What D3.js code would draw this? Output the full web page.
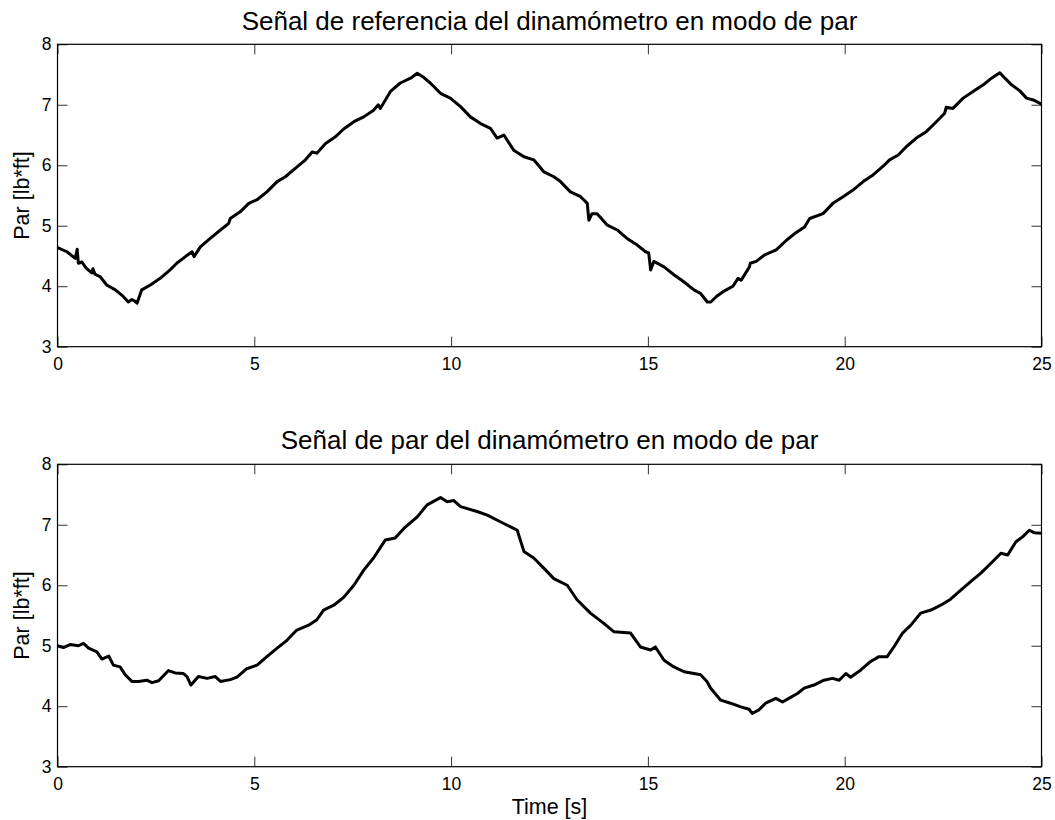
<!DOCTYPE html>
<html>
<head>
<meta charset="utf-8">
<script src="https://cdn.jsdelivr.net/npm/d3@7/dist/d3.min.js"></script>
<style>
  html, body { margin: 0; padding: 0; background: #fff; }
  svg { display: block; font-family: "Liberation Sans", Arial, Helvetica, sans-serif; }
</style>
</head>
<body>
<svg id="chart" width="1055" height="820"></svg>
<script>
// ---- Data ----
const titles = [
  "Señal de referencia del dinamómetro en modo de par",
  "Señal de par del dinamómetro en modo de par"
];
const yLabel = "Par [lb*ft]";
const xLabel = "Time [s]";
const xTicks = [0, 5, 10, 15, 20, 25];
const yTicks = [3, 4, 5, 6, 7, 8];

const refTime = [0, 0.24, 0.45, 0.50, 0.53, 0.62, 0.73, 0.87, 0.90, 0.95, 1.08, 1.25, 1.47, 1.64, 1.80, 1.89, 1.95, 2.02, 2.14, 2.36, 2.61, 2.86, 3.03, 3.25, 3.42, 3.47, 3.63, 3.88, 4.14, 4.35, 4.39, 4.64, 4.86, 5.07, 5.32, 5.58, 5.79, 6.04, 6.30, 6.47, 6.59, 6.81, 7.06, 7.27, 7.53, 7.78, 8.03, 8.15, 8.20, 8.46, 8.71, 8.97, 9.14, 9.31, 9.47, 9.73, 9.98, 10.24, 10.49, 10.75, 11.00, 11.17, 11.34, 11.59, 11.85, 12.10, 12.36, 12.61, 12.78, 13.03, 13.29, 13.46, 13.50, 13.58, 13.71, 13.97, 14.22, 14.47, 14.73, 14.94, 15.02, 15.07, 15.15, 15.41, 15.66, 15.92, 16.17, 16.34, 16.51, 16.60, 16.74, 16.91, 17.16, 17.29, 17.37, 17.58, 17.60, 17.75, 17.97, 18.26, 18.52, 18.73, 18.98, 19.11, 19.45, 19.70, 19.96, 20.21, 20.47, 20.72, 20.97, 21.14, 21.36, 21.57, 21.82, 22.08, 22.33, 22.54, 22.58, 22.75, 23.01, 23.26, 23.52, 23.73, 23.94, 24.07, 24.24, 24.45, 24.62, 24.79, 25.00];
const refTorque = [4.64, 4.57, 4.46, 4.61, 4.38, 4.40, 4.30, 4.22, 4.29, 4.20, 4.16, 4.02, 3.94, 3.85, 3.74, 3.78, 3.76, 3.72, 3.94, 4.02, 4.13, 4.27, 4.38, 4.49, 4.57, 4.49, 4.65, 4.79, 4.93, 5.04, 5.12, 5.23, 5.37, 5.43, 5.56, 5.73, 5.81, 5.95, 6.09, 6.22, 6.20, 6.36, 6.47, 6.60, 6.72, 6.80, 6.91, 7.00, 6.94, 7.22, 7.36, 7.44, 7.52, 7.45, 7.36, 7.19, 7.11, 6.97, 6.80, 6.69, 6.61, 6.45, 6.50, 6.25, 6.14, 6.09, 5.89, 5.81, 5.73, 5.56, 5.48, 5.37, 5.09, 5.20, 5.20, 5.01, 4.93, 4.79, 4.68, 4.57, 4.55, 4.27, 4.41, 4.32, 4.19, 4.07, 3.94, 3.88, 3.74, 3.74, 3.83, 3.91, 4.00, 4.13, 4.10, 4.32, 4.38, 4.41, 4.52, 4.60, 4.76, 4.87, 4.98, 5.12, 5.20, 5.37, 5.48, 5.59, 5.73, 5.84, 5.98, 6.09, 6.17, 6.31, 6.45, 6.56, 6.72, 6.86, 6.96, 6.94, 7.11, 7.22, 7.33, 7.44, 7.53, 7.44, 7.33, 7.23, 7.11, 7.08, 7.01];

const parTime = [0, 0.15, 0.32, 0.53, 0.66, 0.79, 1.00, 1.13, 1.30, 1.42, 1.59, 1.72, 1.89, 2.06, 2.27, 2.40, 2.57, 2.82, 2.99, 3.20, 3.29, 3.39, 3.58, 3.80, 4.01, 4.14, 4.39, 4.56, 4.81, 5.07, 5.32, 5.58, 5.83, 6.08, 6.38, 6.59, 6.76, 7.02, 7.27, 7.53, 7.78, 8.03, 8.33, 8.58, 8.80, 9.14, 9.39, 9.73, 9.90, 10.07, 10.24, 10.66, 10.92, 11.25, 11.59, 11.68, 11.85, 12.10, 12.36, 12.61, 12.95, 13.20, 13.54, 13.88, 14.14, 14.56, 14.81, 15.07, 15.19, 15.41, 15.66, 15.92, 16.17, 16.34, 16.50, 16.59, 16.85, 17.10, 17.36, 17.57, 17.65, 17.82, 17.99, 18.25, 18.42, 18.58, 18.80, 18.97, 19.22, 19.47, 19.69, 19.86, 20.03, 20.15, 20.41, 20.66, 20.87, 21.08, 21.25, 21.47, 21.68, 21.93, 22.19, 22.44, 22.69, 22.95, 23.20, 23.46, 23.71, 23.97, 24.14, 24.35, 24.52, 24.69, 24.81, 25.00];
const parTorque = [5.00, 4.97, 5.02, 5.00, 5.04, 4.96, 4.90, 4.78, 4.83, 4.68, 4.65, 4.52, 4.41, 4.41, 4.43, 4.39, 4.42, 4.59, 4.55, 4.54, 4.49, 4.35, 4.49, 4.46, 4.49, 4.41, 4.44, 4.48, 4.62, 4.68, 4.82, 4.96, 5.09, 5.26, 5.34, 5.43, 5.59, 5.67, 5.80, 6.00, 6.25, 6.45, 6.75, 6.78, 6.94, 7.13, 7.33, 7.45, 7.38, 7.40, 7.30, 7.22, 7.16, 7.05, 6.94, 6.91, 6.56, 6.45, 6.28, 6.11, 6.00, 5.76, 5.54, 5.37, 5.23, 5.21, 4.98, 4.93, 4.98, 4.76, 4.65, 4.57, 4.54, 4.52, 4.41, 4.30, 4.10, 4.05, 3.99, 3.95, 3.88, 3.94, 4.05, 4.13, 4.07, 4.13, 4.21, 4.30, 4.35, 4.43, 4.46, 4.43, 4.54, 4.48, 4.60, 4.74, 4.82, 4.82, 4.98, 5.21, 5.34, 5.54, 5.59, 5.67, 5.77, 5.92, 6.06, 6.20, 6.36, 6.53, 6.50, 6.72, 6.80, 6.91, 6.87, 6.86];

// ---- Layout ----
const svg = d3.select("#chart");
const left = 57.5, right = 1041.5;
const panels = [
  { top: 44.3, bottom: 346.7, title: titles[0], t: refTime, v: refTorque, titleY: 29.5, xlab: false },
  { top: 464.3, bottom: 766.7, title: titles[1], t: parTime, v: parTorque, titleY: 448.5, xlab: true }
];

const x = d3.scaleLinear().domain([0, 25]).range([left, right]);

panels.forEach((p, i) => {
  const y = d3.scaleLinear().domain([3, 8]).range([p.bottom, p.top]);
  const g = svg.append("g");

  const clipId = "clip" + i;
  svg.append("clipPath").attr("id", clipId)
    .append("rect").attr("x", left).attr("y", p.top - 2)
    .attr("width", right - left).attr("height", p.bottom - p.top + 4);

  // axes with inward ticks
  const ax = g.append("g").attr("transform", `translate(0,${p.bottom})`)
    .call(d3.axisBottom(x).tickValues(xTicks).tickFormat(d3.format("d")).tickSizeInner(-10).tickSizeOuter(0).tickPadding(11));
  const axT = g.append("g").attr("transform", `translate(0,${p.top})`)
    .call(d3.axisTop(x).tickValues(xTicks).tickFormat("").tickSizeInner(-10).tickSizeOuter(0));
  const ay = g.append("g").attr("transform", `translate(${left},0)`)
    .call(d3.axisLeft(y).tickValues(yTicks).tickFormat(d3.format("d")).tickSizeInner(-10).tickSizeOuter(0).tickPadding(6));
  const ayR = g.append("g").attr("transform", `translate(${right},0)`)
    .call(d3.axisRight(y).tickValues(yTicks).tickFormat("").tickSizeInner(-10).tickSizeOuter(0));

  [ax, axT, ay, ayR].forEach(a => {
    a.select(".domain").remove();
    a.selectAll(".tick line").attr("stroke", "#333").attr("stroke-width", 1);
    a.selectAll(".tick text").attr("font-size", 17.5).attr("fill", "#000")
      .attr("font-family", '"Liberation Sans", Arial, Helvetica, sans-serif');
  });

  g.append("rect").attr("x", left).attr("y", p.top)
    .attr("width", right - left).attr("height", p.bottom - p.top)
    .attr("fill", "none").attr("stroke", "#000").attr("stroke-width", 1.2);

  const data = p.t.map((t, k) => [t, p.v[k]]);
  g.append("path").datum(data)
    .attr("clip-path", `url(#${clipId})`)
    .attr("fill", "none").attr("stroke", "#000").attr("stroke-width", 3)
    .attr("stroke-linejoin", "round").attr("stroke-linecap", "round")
    .attr("d", d3.line().x(d => x(d[0])).y(d => y(d[1])));

  g.append("text").attr("x", (left + right) / 2).attr("y", p.titleY)
    .attr("text-anchor", "middle").attr("font-size", 26).attr("fill", "#000")
    .text(p.title);

  g.append("text")
    .attr("transform", `translate(29,${(p.top + p.bottom) / 2}) rotate(-90)`)
    .attr("text-anchor", "middle").attr("font-size", 21.5).attr("fill", "#000")
    .text(yLabel);

  if (p.xlab) {
    g.append("text").attr("x", (left + right) / 2).attr("y", 814)
      .attr("text-anchor", "middle").attr("font-size", 21.5).attr("fill", "#000")
      .text(xLabel);
  }
});
</script>
</body>
</html>
